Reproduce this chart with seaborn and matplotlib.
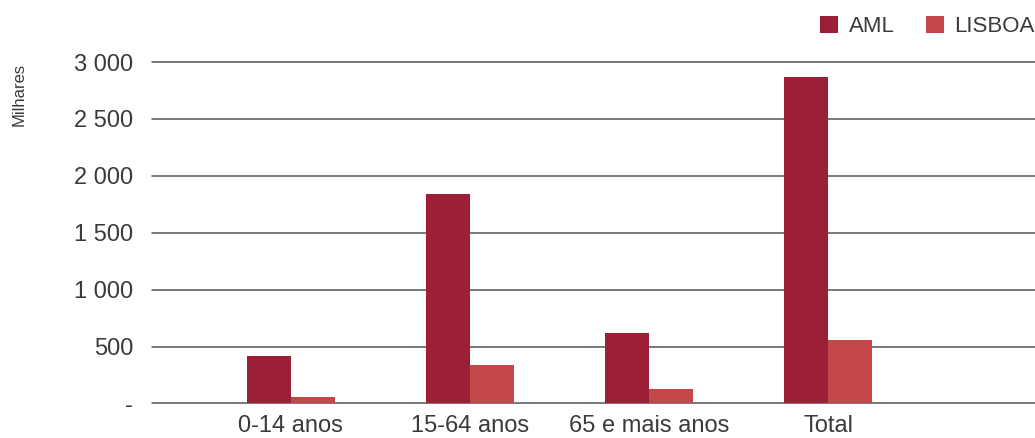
import matplotlib
matplotlib.use("Agg")
import matplotlib.pyplot as plt
from matplotlib.ticker import FuncFormatter
import seaborn as sns
import pandas as pd

categories = ["0-14 anos", "15-64 anos", "65 e mais anos", "Total"]
series_names = ["AML", "LISBOA"]
aml_values = [417, 1840, 619, 2868]
lisboa_values = [57, 338, 127, 558]
y_ticks = [0, 500, 1000, 1500, 2000, 2500, 3000]
colors = ["#9B1F37", "#C4474A"]

df = pd.DataFrame({
    "grupo": categories * 2,
    "serie": [series_names[0]] * len(categories) + [series_names[1]] * len(categories),
    "valor": aml_values + lisboa_values,
})

sns.set_theme(style="white")
plt.rcParams["font.family"] = ["Liberation Sans", "DejaVu Sans"]
text_color = "#3a3a3a"

fig = plt.figure(figsize=(10.35, 4.38), dpi=100)
ax = fig.add_axes([0.1473, 0.0788, 0.8527, 0.7796])

sns.barplot(data=df, x="grupo", y="valor", hue="serie", order=categories,
            hue_order=series_names, palette=colors, width=0.49,
            saturation=1, ax=ax, zorder=3, linewidth=0)

ax.set_xlim(-0.773, 4.154)
ax.set_ylim(0, 3000)
ax.set_yticks(y_ticks)
ax.yaxis.set_major_formatter(FuncFormatter(
    lambda v, p: "-" if v == 0 else f"{int(v):,}".replace(",", " ")))
ax.yaxis.grid(True, color="#555555", linewidth=1.1, zorder=1)
ax.set_axisbelow(True)
for gl in ax.get_ygridlines():
    gl.set_clip_on(False)
for s in ax.spines.values():
    s.set_visible(False)
ax.tick_params(axis="both", length=0, labelsize=17, colors=text_color)
ax.tick_params(axis="y", pad=14)
ax.tick_params(axis="x", pad=8)
ax.set_xlabel("")
ax.set_ylabel("")
fig.text(0.018, 0.857, "Milhares", rotation=90, ha="center", va="top",
         fontsize=12, color=text_color)

handles, labels = ax.get_legend_handles_labels()
ax.legend(handles, labels, loc="upper right", bbox_to_anchor=(1.0, 0.963),
          bbox_transform=fig.transFigure, ncol=2, frameon=False,
          fontsize=16, handlelength=0.8, handleheight=0.8,
          columnspacing=1.4, handletextpad=0.5, labelcolor=text_color,
          borderaxespad=0, borderpad=0)

fig.savefig("out.png", dpi=100)
